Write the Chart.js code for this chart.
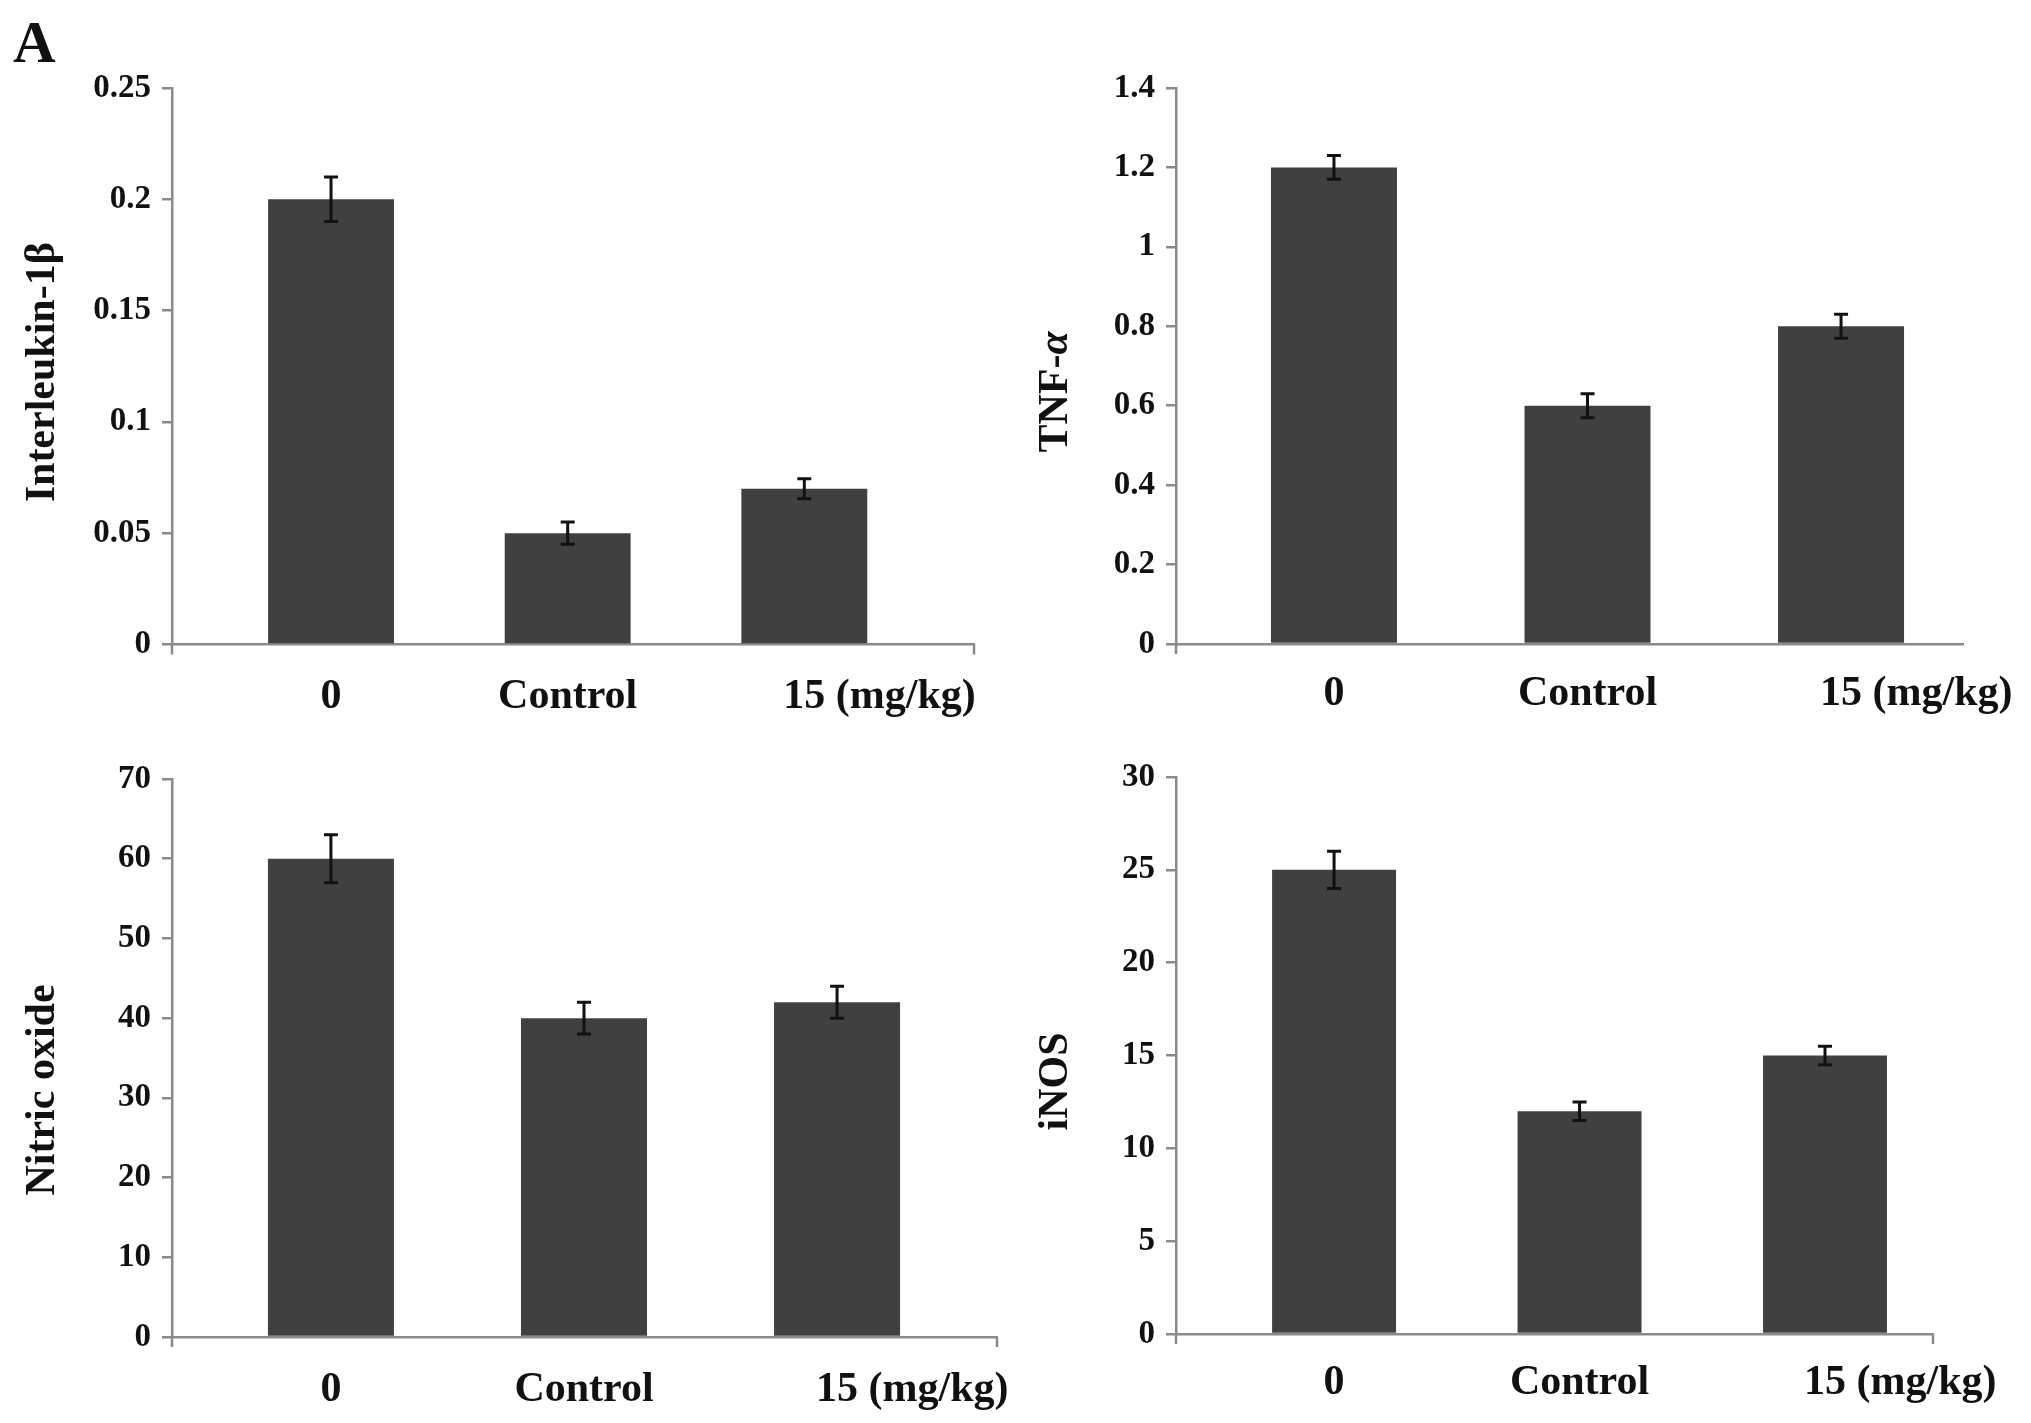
<!DOCTYPE html>
<html lang="en">
<head>
    <meta charset="UTF-8">
    <title>Inflammatory markers</title>
    <script src="https://cdn.jsdelivr.net/npm/chart.js"></script>
    <style>
        body {
            margin: 0;
            background: #fff;
        }
        #figure {
            position: relative;
            width: 2031px;
            height: 1423px;
            background: #fff;
        }
        #figure canvas {
            position: absolute;
        }
        .panel-label {
            position: absolute;
            left: 13px;
            top: 13px;
            font: bold 59px "Liberation Serif", serif;
            line-height: 1;
            color: #111;
        }
    </style>
</head>
<body>
<div id="figure">
    <div class="panel-label">A</div>
    <canvas id="il1bChart"></canvas>
    <canvas id="tnfChart"></canvas>
    <canvas id="noChart"></canvas>
    <canvas id="inosChart"></canvas>
</div>

<script>
// groups on the x axis
const categories = ["0", "Control", "15"];
const unitSuffix = " (mg/kg)";

// Interleukin-1β
const il1bValues = [0.2, 0.05, 0.07];
const il1bErrors = [0.01, 0.005, 0.0045];
const il1bTicks = [0, 0.05, 0.1, 0.15, 0.2, 0.25];

// TNF-α
const tnfValues = [1.2, 0.6, 0.8];
const tnfErrors = [0.03, 0.03, 0.03];
const tnfTicks = [0, 0.2, 0.4, 0.6, 0.8, 1, 1.2, 1.4];

// Nitric oxide
const noValues = [60, 40, 42];
const noErrors = [3, 2, 2];
const noTicks = [0, 10, 20, 30, 40, 50, 60, 70];

// iNOS
const inosValues = [25, 12, 15];
const inosErrors = [1, 0.5, 0.5];
const inosTicks = [0, 5, 10, 15, 20, 25, 30];

const fontFamily = '"Liberation Serif", "Times New Roman", serif';
const axisColor = "#8a8a8a";
const barColor = "#404040";
const textColor = "#111";

// vertical error bars with caps
const errorBars = {
    id: "errorBars",
    afterDatasetsDraw(chart) {
        const ctx = chart.ctx;
        const y = chart.scales.y;
        chart.data.datasets.forEach((ds, di) => {
            const meta = chart.getDatasetMeta(di);
            meta.data.forEach((bar, i) => {
                const v = ds.data[i].y;
                const e = ds.errors[i];
                const top = y.getPixelForValue(v + e);
                const bottom = y.getPixelForValue(v - e);
                ctx.save();
                ctx.strokeStyle = "#111";
                ctx.lineWidth = 3;
                ctx.beginPath();
                ctx.moveTo(bar.x, top);
                ctx.lineTo(bar.x, bottom);
                ctx.moveTo(bar.x - 7, top);
                ctx.lineTo(bar.x + 7, top);
                ctx.moveTo(bar.x - 7, bottom);
                ctx.lineTo(bar.x + 7, bottom);
                ctx.stroke();
                ctx.restore();
            });
        });
    }
};

// rotated y title, parts may be italic (TNF-α)
const yTitle = {
    id: "yTitle",
    afterDraw(chart, args, opts) {
        const ctx = chart.ctx;
        const area = chart.chartArea;
        const fonts = opts.parts.map(p => (p[1] ? "italic " : "") + "bold 42px " + fontFamily);
        ctx.save();
        let total = 0;
        opts.parts.forEach((p, i) => {
            ctx.font = fonts[i];
            total += ctx.measureText(p[0]).width;
        });
        ctx.translate(opts.x, (area.top + area.bottom) / 2 + opts.shift);
        ctx.rotate(-Math.PI / 2);
        ctx.fillStyle = textColor;
        ctx.textAlign = "left";
        ctx.textBaseline = "middle";
        let pos = -total / 2;
        opts.parts.forEach((p, i) => {
            ctx.font = fonts[i];
            ctx.fillText(p[0], pos, 0);
            pos += ctx.measureText(p[0]).width;
        });
        ctx.restore();
    }
};

// little marks where the x axis starts / ends
const axisEnds = {
    id: "axisEnds",
    afterDraw(chart, args, opts) {
        const ctx = chart.ctx;
        const area = chart.chartArea;
        ctx.save();
        ctx.strokeStyle = axisColor;
        ctx.lineWidth = 2.5;
        ctx.beginPath();
        ctx.moveTo(area.left, area.bottom);
        ctx.lineTo(area.left, area.bottom + 10);
        if (opts.right) {
            ctx.moveTo(area.right, area.bottom);
            ctx.lineTo(area.right, area.bottom + 10);
        }
        ctx.stroke();
        ctx.restore();
    }
};

// "(mg/kg)" written after the last group label
const unitLabel = {
    id: "unitLabel",
    afterDraw(chart) {
        const ctx = chart.ctx;
        const x = chart.scales.x;
        const last = categories.length - 1;
        const px = x.getPixelForValue(last);
        const pad = x.options.ticks.padding;
        ctx.save();
        ctx.font = "bold 42px " + fontFamily;
        ctx.fillStyle = textColor;
        const w = ctx.measureText(categories[last]).width;
        ctx.textAlign = "left";
        ctx.textBaseline = "middle";
        ctx.fillText(unitSuffix, px + w / 2, x.top + pad + 42 * 1.2 / 2);
        ctx.restore();
    }
};

const panels = [
    { id: "il1bChart", values: il1bValues, errors: il1bErrors, ticks: il1bTicks, title: [["Interleukin-1β", false]],
      box: [0, 0, 1015, 730], yWidth: 172, padTop: 88, padRight: 41, xHeight: 85.5, labelPad: 27,
      xMin: -0.672, xMax: 2.717, barPct: 0.532, titleX: 43, titleShift: 6, rightTick: true },
    { id: "tnfChart", values: tnfValues, errors: tnfErrors, ticks: tnfTicks, title: [["TNF-", false], ["α", true]],
      box: [1015, 0, 1016, 730], yWidth: 161, padTop: 88, padRight: 68, xHeight: 86, labelPad: 25,
      xMin: -0.623, xMax: 2.481, barPct: 0.497, titleX: 41, titleShift: 26, rightTick: false },
    { id: "noChart", values: noValues, errors: noErrors, ticks: noTicks, title: [["Nitric oxide", false]],
      box: [0, 720, 1015, 703], yWidth: 172, padTop: 59, padRight: 18, xHeight: 86, labelPad: 28,
      xMin: -0.628, xMax: 2.632, barPct: 0.498, titleX: 43, titleShift: 32, rightTick: true },
    { id: "inosChart", values: inosValues, errors: inosErrors, ticks: inosTicks, title: [["iNOS", false]],
      box: [1015, 720, 1016, 703], yWidth: 161, padTop: 57, padRight: 98, xHeight: 89, labelPad: 24,
      xMin: -0.644, xMax: 2.44, barPct: 0.505, titleX: 41, titleShift: 26, rightTick: true }
];

panels.forEach(p => {
    const canvas = document.getElementById(p.id);
    canvas.width = p.box[2];
    canvas.height = p.box[3];
    canvas.style.left = p.box[0] + "px";
    canvas.style.top = p.box[1] + "px";

    new Chart(canvas, {
        type: "bar",
        data: {
            datasets: [{
                data: p.values.map((v, i) => ({ x: i, y: v })),
                errors: p.errors,
                backgroundColor: barColor,
                borderWidth: 0,
                barPercentage: p.barPct,
                categoryPercentage: 1
            }]
        },
        options: {
            responsive: false,
            animation: false,
            devicePixelRatio: 1,
            events: [],
            layout: { padding: { top: p.padTop, right: p.padRight, left: 0, bottom: 0 } },
            plugins: {
                legend: { display: false },
                tooltip: { enabled: false },
                yTitle: { parts: p.title, x: p.titleX, shift: p.titleShift },
                axisEnds: { right: p.rightTick }
            },
            scales: {
                x: {
                    type: "linear",
                    offset: false,
                    min: p.xMin,
                    max: p.xMax,
                    grid: { display: false, drawTicks: false, offset: false },
                    border: { color: axisColor, width: 2.5 },
                    ticks: {
                        padding: p.labelPad,
                        maxRotation: 0,
                        minRotation: 0,
                        color: textColor,
                        font: { family: fontFamily, size: 42, weight: "bold" },
                        callback: (v, i) => categories[i]
                    },
                    afterBuildTicks: s => { s.ticks = categories.map((c, i) => ({ value: i })); },
                    afterFit: s => { s.height = p.xHeight; }
                },
                y: {
                    min: 0,
                    max: p.ticks[p.ticks.length - 1],
                    grid: { drawOnChartArea: false, drawTicks: true, tickLength: 10, color: axisColor, lineWidth: 2.5 },
                    border: { color: axisColor, width: 2.5 },
                    ticks: {
                        padding: 11,
                        color: textColor,
                        font: { family: fontFamily, size: 33, weight: "bold" },
                        callback: v => String(+v.toFixed(4))
                    },
                    afterBuildTicks: s => { s.ticks = p.ticks.map(v => ({ value: v })); },
                    afterFit: s => { s.width = p.yWidth; }
                }
            }
        },
        plugins: [errorBars, yTitle, axisEnds, unitLabel]
    });
});
</script>
</body>
</html>
